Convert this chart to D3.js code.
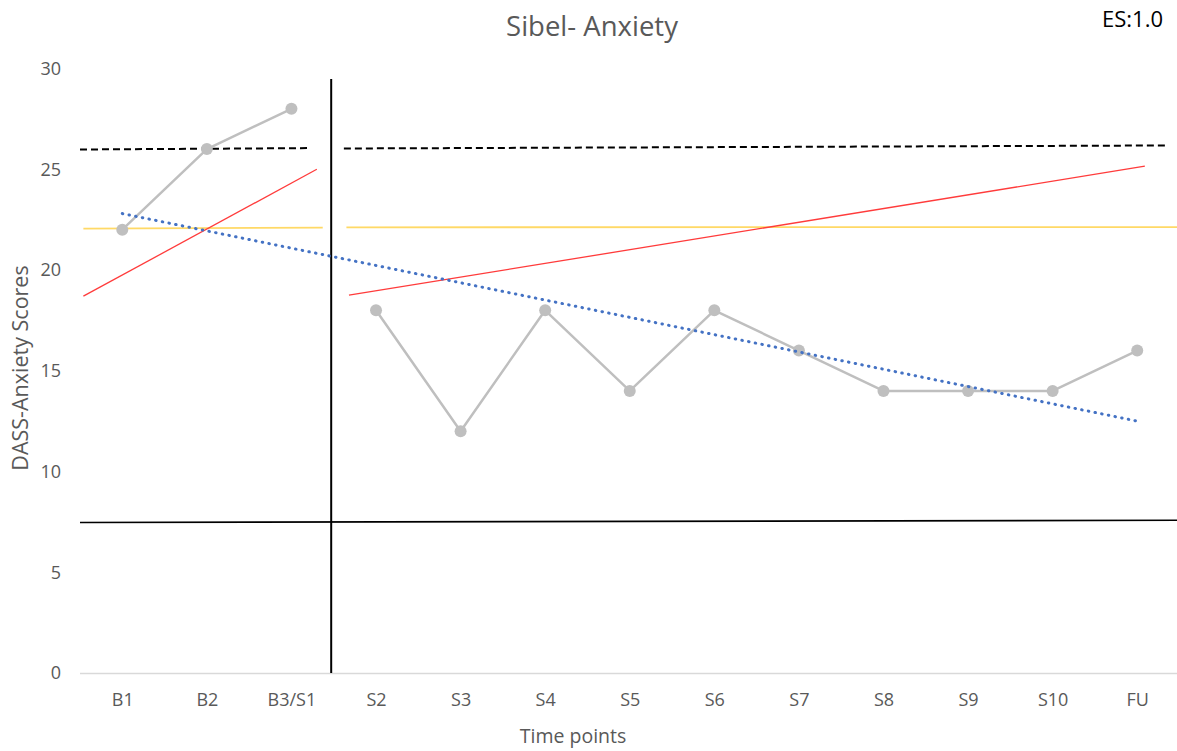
<!DOCTYPE html>
<html>
<head>
<meta charset="utf-8">
<script src="https://cdn.jsdelivr.net/npm/d3@7"></script>
<style>
  html, body { margin: 0; padding: 0; background: #fff; }
  svg { display: block; font-family: "Open Sans", "Noto Sans", sans-serif; }
</style>
</head>
<body>
<svg id="chart" width="1177" height="751"></svg>
<script>
// Time points and DASS-Anxiety scores
const categories = ["B1", "B2", "B3/S1", "S2", "S3", "S4", "S5", "S6", "S7", "S8", "S9", "S10", "FU"];
const baselineScores = [22, 26, 28];            // B1..B3/S1
const interventionScores = [18, 12, 18, 14, 18, 16, 14, 14, 14, 16]; // S2..FU
const yTicks = [0, 5, 10, 15, 20, 25, 30];

// Reference lines, given as [category position, score] end points
const meanBaseline = [[-0.5, 25.98], [2.22, 26.05]];
const meanIntervention = [[2.62, 26.03], [12.34, 26.18]];
const trendBaseline = [[-0.46, 18.7], [2.3, 25.0]];
const trendIntervention = [[2.68, 18.75], [12.09, 25.15]];
const levelBaseline = [[-0.46, 22.05], [2.37, 22.1]];
const levelIntervention = [[2.65, 22.12], [12.5, 22.13]];
const overallTrend = [[0, 22.8], [12, 12.5]];
const cutoffLine = [[-0.5, 7.47], [12.5, 7.58]];
const phaseChange = 2.47;

const svg = d3.select("#chart");
const plotLeft = 80, plotRight = 1179.5, plotTop = 68.5, plotBottom = 673;

const xPoint = d3.scalePoint().domain(categories).range([plotLeft, plotRight]).padding(0.5);
const xIdx = d3.scaleLinear().domain([-0.5, categories.length - 0.5]).range([plotLeft, plotRight]);
const y = d3.scaleLinear().domain([0, 30]).range([plotBottom, plotTop]);

const line = d3.line().x(d => xIdx(d[0])).y(d => y(d[1]));

// Title and effect size
svg.append("text").attr("x", 592).attr("y", 36).attr("text-anchor", "middle")
  .attr("font-size", 27.5).attr("fill", "#595959").text("Sibel- Anxiety");
svg.append("text").attr("x", 1163).attr("y", 27).attr("text-anchor", "end")
  .attr("font-size", 22).attr("fill", "#000").text("ES:1.0");

// Y axis (labels only)
const yAxis = svg.append("g").attr("transform", `translate(${plotLeft},0)`)
  .call(d3.axisLeft(y).tickValues(yTicks).tickSize(0).tickPadding(19));
yAxis.select(".domain").remove();
yAxis.selectAll("text").attr("font-size", 18).attr("fill", "#595959")
  .attr("font-family", "Open Sans, sans-serif");

// X axis
const xAxis = svg.append("g").attr("transform", `translate(0,${plotBottom})`)
  .call(d3.axisBottom(xPoint).tickSize(0).tickPadding(20));
xAxis.select(".domain").attr("stroke", "#d9d9d9").attr("stroke-width", 1.3)
  .attr("d", `M${plotLeft},0.5H1177`);
xAxis.selectAll("text").attr("font-size", 18).attr("fill", "#595959")
  .attr("font-family", "Open Sans, sans-serif");

// Axis titles
svg.append("text").attr("x", 573).attr("y", 743).attr("text-anchor", "middle")
  .attr("font-size", 19.5).attr("fill", "#595959").text("Time points");
svg.append("text").attr("transform", "translate(28,368) rotate(-90)")
  .attr("text-anchor", "middle").attr("font-size", 21.5).attr("fill", "#595959")
  .text("DASS-Anxiety Scores");

// Cutoff and phase change lines
svg.append("path").attr("d", line(cutoffLine)).attr("fill", "none")
  .attr("stroke", "#000").attr("stroke-width", 1.6);
svg.append("line").attr("x1", xIdx(phaseChange)).attr("x2", xIdx(phaseChange))
  .attr("y1", 79).attr("y2", plotBottom).attr("stroke", "#000").attr("stroke-width", 2);

// Level lines (yellow)
[levelBaseline, levelIntervention].forEach(seg =>
  svg.append("path").attr("d", line(seg)).attr("fill", "none")
    .attr("stroke", "#ffd966").attr("stroke-width", 1.8));

// Trend lines (red)
[trendBaseline, trendIntervention].forEach(seg =>
  svg.append("path").attr("d", line(seg)).attr("fill", "none")
    .attr("stroke", "#ff3b3b").attr("stroke-width", 1.3));

// Mean lines (black dashed)
[meanBaseline, meanIntervention].forEach(seg =>
  svg.append("path").attr("d", line(seg)).attr("fill", "none")
    .attr("stroke", "#000").attr("stroke-width", 2).attr("stroke-dasharray", "7 4"));

// Score series
const series = [
  baselineScores.map((v, i) => [i, v]),
  interventionScores.map((v, i) => [i + baselineScores.length, v])
];
series.forEach(s => {
  svg.append("path").attr("d", line(s)).attr("fill", "none")
    .attr("stroke", "#bfbfbf").attr("stroke-width", 2.5).attr("stroke-linejoin", "round");
  svg.append("g").selectAll("circle").data(s).join("circle")
    .attr("cx", d => xIdx(d[0])).attr("cy", d => y(d[1])).attr("r", 6)
    .attr("fill", "#bfbfbf");
});

// Overall trend (blue dotted)
svg.append("path").attr("d", line(overallTrend)).attr("fill", "none")
  .attr("stroke", "#4472c4").attr("stroke-width", 3).attr("stroke-linecap", "round")
  .attr("stroke-dasharray", "0.5 6.3");
</script>
</body>
</html>
